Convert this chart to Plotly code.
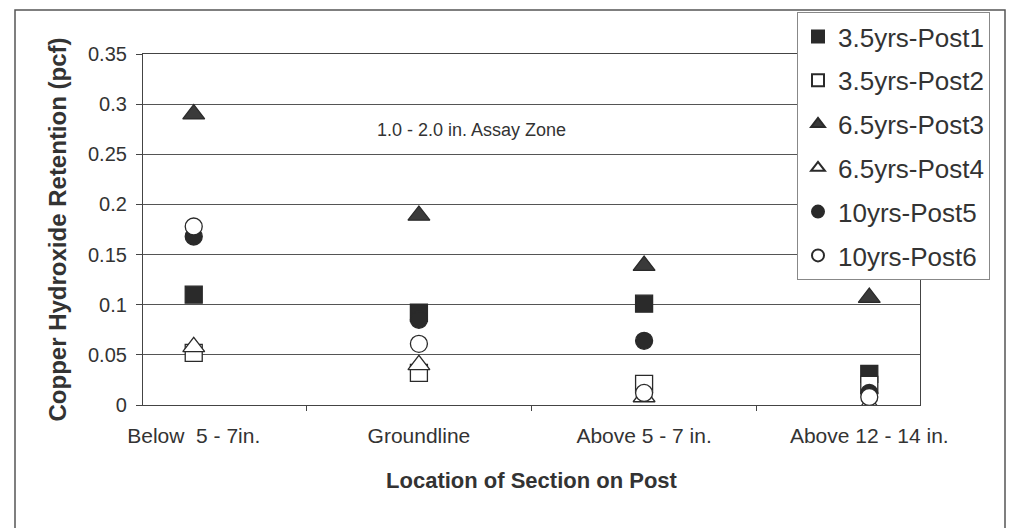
"""
Retención de hidróxido de cobre por ubicación de la sección en el poste.
"""

import plotly.graph_objects as go

# Datos
categories = ["Below  5 - 7in.", "Groundline", "Above 5 - 7 in.", "Above 12 - 14 in."]
series_names = ["3.5yrs-Post1", "3.5yrs-Post2", "6.5yrs-Post3",
                "6.5yrs-Post4", "10yrs-Post5", "10yrs-Post6"]
post1 = [0.110, 0.092, 0.101, 0.031]
post2 = [0.052, 0.032, 0.021, 0.020]
post3 = [0.290, 0.189, 0.139, 0.107]
post4 = [0.058, 0.040, 0.008, 0.000]
post5 = [0.168, 0.085, 0.064, 0.012]
post6 = [0.178, 0.061, 0.012, 0.008]
y_ticks = [0, 0.05, 0.1, 0.15, 0.2, 0.25, 0.3, 0.35]
y_ticktext = ["0", "0.05", "0.1", "0.15", "0.2", "0.25", "0.3", "0.35"]

FONT = "Liberation Sans, Arial, sans-serif"
DARK = "#2a2a2a"
TEXT = "#333333"

# La página tiene un margen de 8 px en el body: se descuenta de todo
OFF = 8
W, H = 1014 - OFF, 528 - OFF
PL, PR, PT, PB = 143 - OFF, 920 - OFF, 54 - OFF, 405 - OFF


def px_x(x):
    # x en píxeles de la ventana -> coordenada paper
    return (x - OFF - PL) / (PR - PL)


def px_y(y):
    return (PB - (y - OFF)) / (PB - PT)


# Estilo de cada serie: símbolo y relleno
styles = [
    dict(symbol="square", size=17, fill=DARK),
    dict(symbol="square", size=17, fill="white"),
    dict(symbol="triangle-up", size=19, fill="#3a3a3a"),
    dict(symbol="triangle-up", size=19, fill="white"),
    dict(symbol="circle", size=17, fill=DARK),
    dict(symbol="circle", size=17, fill="white"),
]
values = [post1, post2, post3, post4, post5, post6]

fig = go.Figure()
for i, (name, vals, st) in enumerate(zip(series_names, values, styles)):
    fig.add_trace(go.Scatter(
        x=categories,
        y=vals,
        mode="markers",
        name=name,
        legendgroup=f"g{i}",
        marker=dict(symbol=st["symbol"], size=st["size"], color=st["fill"],
                    line=dict(color=DARK, width=1.3)),
    ))

fig.add_annotation(
    x=px_x(471), xref="paper", y=0.274, yref="y",
    text="1.0 - 2.0 in. Assay Zone", showarrow=False,
    font=dict(family=FONT, size=18, color=TEXT),
)

# Marco exterior del gráfico
fig.add_shape(
    type="rect", xref="paper", yref="paper",
    x0=px_x(15), x1=px_x(1005), y0=px_y(560), y1=px_y(10),
    line=dict(color="#555555", width=1.5), fillcolor="rgba(0,0,0,0)", layer="below",
)

fig.update_layout(
    width=W, height=H,
    margin=dict(l=PL, r=W - PR, t=PT, b=H - PB, autoexpand=False),
    paper_bgcolor="white", plot_bgcolor="white",
    font=dict(family=FONT, color=TEXT),
    showlegend=True,
    legend=dict(
        x=px_x(797), y=px_y(12), xanchor="left", yanchor="top",
        font=dict(family=FONT, size=26, color=TEXT),
        bordercolor="#888888", borderwidth=1, bgcolor="white",
        traceorder="grouped", tracegroupgap=7,
        itemsizing="constant", maxheight=500,
    ),
    xaxis=dict(
        type="category", tickson="boundaries",
        ticks="outside", ticklen=5, tickcolor="#444444",
        showline=True, linecolor="#444444", linewidth=1.2, mirror=True,
        showgrid=False, ticklabelstandoff=12,
        tickfont=dict(family=FONT, size=21, color=TEXT),
        title=dict(text="<b>Location of Section on Post</b>",
                   font=dict(family=FONT, size=22, color=TEXT), standoff=26),
    ),
    yaxis=dict(
        range=[0, 0.35], tickvals=y_ticks, ticktext=y_ticktext,
        ticks="outside", ticklen=6, tickcolor="#444444",
        showline=True, linecolor="#444444", linewidth=1.2, mirror=True,
        showgrid=True, gridcolor="#555555", gridwidth=1,
        zeroline=False, ticklabelstandoff=5,
        tickfont=dict(family=FONT, size=20, color=TEXT),
        title=dict(text="<b>Copper Hydroxide Retention (pcf)</b>",
                   font=dict(family=FONT, size=24, color=TEXT), standoff=14),
    ),
)

fig.write_html("out.html")
